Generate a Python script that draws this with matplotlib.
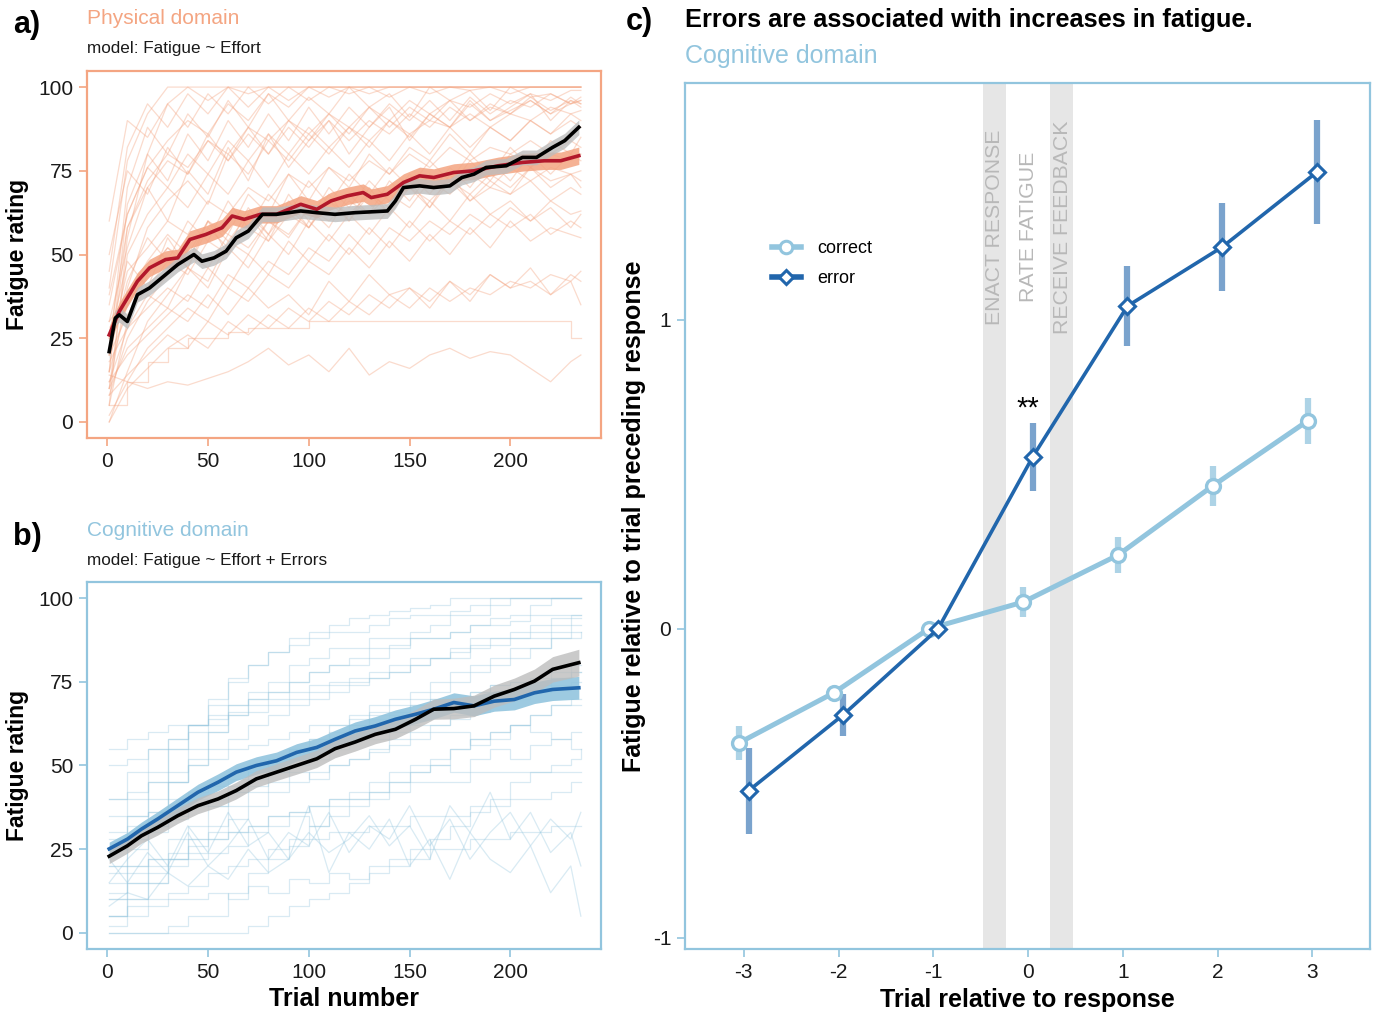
import numpy as np
import matplotlib.pyplot as plt
from matplotlib.lines import Line2D

plt.rcParams['font.family'] = ['Liberation Sans', 'DejaVu Sans']

ORANGE = '#f4a582'
RED = '#b2182b'
LIGHTBLUE = '#92c5de'
BLUE = '#2166ac'

# ---- panel a / b : individual participants, sampled every ~10 trials
TRACE_T = [1, 10, 20, 30, 40, 50, 60, 70, 80, 90, 100, 110, 120, 130, 140, 150, 160, 170, 180,
           190, 200, 210, 220, 230, 235]

PHYS_TRACES = [
    [5, 55, 80, 95, 100, 100, 100, 98, 100, 100, 100, 100, 100, 100, 100, 100, 100, 100, 100, 100, 100, 100, 100, 100, 100],
    [20, 70, 88, 80, 92, 85, 96, 88, 98, 90, 97, 92, 100, 94, 98, 91, 100, 96, 99, 93, 100, 97, 98, 95, 97],
    [10, 40, 58, 66, 72, 65, 80, 74, 84, 78, 86, 80, 88, 82, 90, 85, 92, 88, 95, 90, 93, 96, 92, 97, 95],
    [30, 52, 70, 60, 75, 68, 82, 72, 86, 76, 84, 90, 80, 88, 94, 84, 92, 88, 96, 90, 94, 98, 90, 96, 94],
    [0, 15, 30, 38, 46, 42, 54, 50, 60, 55, 64, 58, 68, 62, 72, 66, 74, 70, 78, 72, 80, 76, 84, 80, 85],
    [15, 35, 45, 52, 48, 60, 56, 68, 62, 74, 66, 76, 70, 80, 74, 82, 78, 86, 80, 88, 84, 90, 86, 92, 90],
    [25, 48, 40, 55, 46, 60, 50, 62, 54, 66, 58, 68, 60, 70, 62, 72, 64, 74, 66, 72, 68, 76, 70, 74, 70],
    [12, 28, 38, 34, 46, 40, 52, 46, 56, 50, 60, 54, 62, 56, 64, 58, 66, 60, 68, 62, 66, 60, 64, 58, 62],
    [8, 14, 20, 26, 22, 30, 26, 32, 28, 34, 30, 36, 32, 38, 34, 40, 36, 42, 38, 44, 40, 42, 38, 44, 42],
    [14, 12, 10, 12, 11, 13, 15, 18, 22, 17, 20, 15, 22, 14, 18, 16, 20, 22, 19, 21, 20, 16, 12, 18, 20],
    [5, 12, 18, 22, 25, 25, 27, 28, 28, 28, 30, 30, 30, 30, 30, 30, 30, 30, 30, 30, 30, 30, 30, 25, 25],
    [10, 22, 28, 34, 30, 38, 32, 40, 34, 38, 32, 42, 36, 44, 38, 40, 34, 42, 36, 44, 40, 46, 38, 42, 35],
    [35, 62, 76, 84, 90, 86, 95, 90, 98, 94, 100, 100, 100, 100, 100, 100, 100, 100, 100, 100, 100, 100, 100, 100, 100],
    [40, 78, 92, 100, 100, 96, 100, 100, 100, 100, 100, 100, 100, 100, 100, 100, 100, 100, 100, 100, 100, 100, 100, 100, 100],
    [20, 42, 55, 48, 60, 54, 66, 58, 68, 62, 72, 65, 74, 68, 76, 70, 78, 72, 80, 74, 82, 76, 80, 78, 80],
    [5, 30, 44, 52, 46, 58, 52, 64, 56, 68, 60, 70, 64, 72, 66, 74, 68, 76, 70, 78, 72, 80, 74, 80, 78],
    [50, 75, 68, 82, 74, 86, 78, 88, 80, 90, 84, 92, 86, 94, 88, 94, 90, 96, 90, 95, 92, 97, 93, 96, 95],
    [18, 28, 34, 40, 36, 46, 40, 50, 44, 54, 48, 56, 50, 58, 52, 60, 54, 60, 56, 62, 58, 62, 56, 60, 58],
    [10, 50, 62, 70, 64, 74, 68, 78, 70, 80, 74, 82, 76, 84, 78, 86, 80, 88, 82, 88, 84, 90, 86, 90, 88],
    [25, 58, 72, 80, 76, 84, 80, 88, 84, 90, 86, 92, 88, 94, 90, 96, 92, 96, 94, 98, 95, 98, 96, 99, 99],
    [2, 12, 22, 28, 34, 30, 40, 36, 44, 40, 48, 44, 52, 46, 54, 48, 56, 50, 58, 52, 60, 54, 58, 56, 55],
    [30, 38, 48, 56, 50, 60, 54, 62, 56, 64, 58, 66, 60, 68, 62, 70, 64, 72, 66, 70, 68, 72, 66, 70, 68],
    [45, 82, 95, 88, 98, 92, 100, 94, 100, 96, 100, 97, 100, 98, 100, 100, 100, 100, 100, 100, 100, 100, 100, 100, 100],
    [12, 20, 26, 32, 38, 34, 44, 40, 48, 44, 52, 48, 56, 50, 58, 54, 60, 56, 62, 58, 64, 60, 66, 62, 63],
    [20, 32, 40, 48, 44, 54, 50, 58, 54, 62, 58, 66, 62, 68, 64, 70, 66, 72, 68, 74, 70, 76, 72, 74, 75],
    [8, 25, 36, 44, 50, 46, 56, 52, 60, 56, 64, 60, 66, 62, 68, 64, 72, 68, 74, 70, 76, 72, 76, 74, 72],
    [15, 58, 70, 78, 74, 84, 78, 86, 80, 88, 82, 90, 84, 90, 86, 92, 88, 94, 90, 94, 92, 96, 92, 95, 96],
    [0, 10, 16, 22, 26, 22, 30, 26, 32, 28, 34, 30, 36, 32, 38, 34, 40, 36, 40, 38, 42, 40, 44, 42, 45],
    [38, 62, 76, 70, 80, 74, 84, 78, 86, 80, 88, 82, 88, 84, 90, 86, 90, 88, 92, 88, 92, 90, 94, 92, 93],
    [22, 45, 52, 60, 56, 66, 62, 70, 66, 74, 70, 76, 72, 78, 74, 80, 76, 82, 78, 82, 80, 84, 80, 84, 82],
    [60, 90, 85, 95, 88, 98, 92, 100, 95, 100, 96, 100, 98, 100, 97, 100, 98, 100, 99, 100, 98, 100, 100, 100, 100],
    [15, 65, 80, 72, 86, 78, 90, 82, 92, 84, 94, 86, 94, 88, 95, 90, 96, 90, 97, 92, 96, 94, 98, 95, 96],
]
PHYS_STEPPED = [10]

COG_TRACES = [
    [10, 20, 32, 45, 55, 60, 68, 72, 75, 80, 82, 85, 85, 88, 88, 90, 92, 95, 95, 98, 100, 100, 100, 100, 100],
    [20, 28, 36, 45, 52, 60, 65, 70, 72, 75, 78, 80, 82, 85, 86, 88, 88, 90, 92, 92, 93, 95, 95, 95, 95],
    [5, 10, 15, 22, 28, 32, 38, 42, 48, 52, 55, 58, 62, 65, 68, 70, 72, 75, 78, 80, 82, 85, 88, 90, 90],
    [0, 0, 0, 2, 5, 5, 12, 18, 22, 28, 32, 35, 38, 40, 45, 48, 50, 55, 58, 60, 62, 65, 68, 70, 70],
    [30, 35, 40, 45, 50, 55, 58, 62, 65, 68, 70, 72, 74, 76, 78, 80, 82, 85, 88, 88, 90, 92, 94, 95, 95],
    [15, 22, 28, 20, 32, 24, 36, 26, 30, 22, 38, 18, 30, 25, 34, 20, 28, 16, 30, 22, 18, 26, 12, 20, 5],
    [25, 28, 32, 35, 40, 38, 42, 44, 45, 48, 46, 50, 52, 55, 58, 58, 60, 60, 56, 58, 62, 60, 58, 60, 60],
    [40, 48, 55, 58, 62, 65, 68, 70, 72, 75, 78, 80, 80, 82, 85, 88, 88, 90, 92, 94, 95, 98, 100, 100, 100],
    [10, 15, 20, 22, 24, 28, 30, 32, 35, 36, 38, 40, 40, 42, 42, 45, 45, 45, 48, 48, 48, 48, 48, 48, 48],
    [5, 8, 10, 12, 14, 18, 20, 22, 25, 26, 28, 30, 30, 32, 32, 35, 35, 35, 38, 38, 40, 40, 42, 45, 45],
    [22, 15, 24, 18, 30, 20, 26, 34, 22, 30, 26, 36, 24, 32, 28, 38, 26, 34, 22, 30, 36, 26, 34, 28, 36],
    [50, 52, 55, 58, 60, 62, 65, 66, 68, 70, 72, 74, 75, 76, 78, 80, 82, 82, 85, 86, 88, 88, 90, 92, 92],
    [35, 40, 48, 55, 62, 68, 75, 80, 84, 86, 88, 90, 90, 92, 94, 95, 95, 96, 98, 100, 100, 100, 100, 100, 100],
    [15, 18, 22, 28, 32, 38, 42, 48, 52, 55, 58, 62, 65, 68, 70, 72, 75, 78, 80, 82, 85, 85, 88, 88, 90],
    [12, 15, 18, 20, 22, 24, 26, 30, 32, 35, 32, 38, 40, 42, 45, 48, 50, 48, 52, 55, 52, 56, 58, 55, 55],
    [28, 32, 36, 40, 42, 44, 46, 50, 52, 55, 58, 60, 62, 64, 65, 68, 70, 70, 72, 74, 75, 76, 78, 80, 80],
    [8, 12, 10, 18, 14, 20, 16, 25, 18, 22, 30, 24, 28, 35, 26, 32, 22, 38, 30, 42, 28, 36, 24, 30, 20],
    [40, 42, 45, 48, 50, 52, 55, 56, 58, 60, 62, 62, 64, 66, 66, 68, 70, 70, 72, 74, 75, 75, 76, 78, 78],
    [18, 25, 30, 34, 38, 40, 44, 46, 48, 50, 52, 55, 58, 58, 60, 62, 62, 65, 68, 70, 70, 72, 74, 75, 75],
    [55, 58, 60, 62, 62, 64, 66, 68, 70, 72, 74, 75, 76, 78, 80, 82, 82, 84, 86, 88, 88, 90, 92, 94, 94],
    [2, 5, 8, 10, 10, 12, 10, 14, 12, 16, 15, 18, 16, 20, 22, 22, 25, 25, 28, 28, 30, 30, 32, 32, 32],
    [20, 20, 22, 24, 26, 28, 30, 32, 35, 36, 38, 40, 42, 45, 48, 50, 52, 55, 58, 60, 62, 65, 68, 68, 68],
    [5, 10, 15, 22, 28, 30, 34, 38, 42, 45, 48, 50, 52, 54, 56, 60, 62, 64, 66, 70, 72, 74, 76, 78, 78],
    [25, 35, 45, 55, 62, 70, 76, 80, 84, 88, 90, 92, 94, 95, 96, 97, 98, 100, 100, 100, 100, 100, 100, 100, 100],
    [0, 0, 0, 0, 0, 0, 0, 2, 5, 8, 10, 12, 15, 18, 20, 25, 28, 32, 36, 40, 45, 48, 50, 52, 55],
]
COG_NOISY = [5, 10, 16]  # these participants moved the slider a lot

# ---- group means (model fit = coloured, observed mean = black)
A_BLACK_T = [1, 4, 6, 10, 15, 21, 27, 35, 43, 47, 53, 59, 64, 70, 77, 84, 96, 104, 113, 123,
             139, 143, 147, 155, 162, 170, 176, 182, 188, 198, 206, 213, 221, 227, 234]
A_BLACK_V = [21, 31, 32, 30, 38, 40, 43, 47, 50, 48, 49, 51, 55, 57, 62, 62, 63, 62.5, 62, 62.5,
             63, 66, 70, 70.5, 70, 70.5, 73, 74, 76, 76.5, 79, 79, 82, 84, 88]
A_BLACK_SE = 2.2
A_RED_T = [1, 6, 15, 21, 29, 35, 41, 49, 57, 62, 68, 76, 84, 96, 104, 111, 119, 127, 131, 139,
           147, 155, 162, 172, 182, 194, 206, 217, 225, 234]
A_RED_V = [26, 33, 42, 46, 48.5, 49, 54.5, 56, 58, 61.5, 60.5, 62, 62, 65, 63.5, 66, 67.5, 68.5, 67, 68,
           71.5, 73.5, 73, 74.5, 75, 76.5, 77.5, 78, 78, 79.5]
A_RED_SE = 2.6

B_T = [1, 10, 17, 25, 35, 45, 55, 64, 74, 84, 94, 104, 113, 123, 133, 143, 153, 162, 172, 182,
       192, 202, 212, 221, 234]
B_BLACK_V = [22.9, 26, 29, 31.5, 35, 38, 40, 42.5, 46, 48, 50, 52, 55, 57, 59.3, 60.8, 63.8, 66.8, 67, 67.8,
             70.7, 72.7, 75.2, 78.7, 80.7]
B_BLACK_SE = [2.2, 2.2, 2.2, 2.3, 2.3, 2.4, 2.4, 2.5, 2.5, 2.5, 2.6, 2.6, 2.7, 2.7, 2.8, 2.8, 2.9, 3.0, 3.1, 3.2,
              3.3, 3.4, 3.6, 3.8, 4.0]
B_BLUE_V = [25.1, 28, 31, 34, 38, 42, 45, 48, 50, 51.4, 53.9, 55.4, 57.8, 60.3, 61.8, 63.8, 65.3, 66.8, 68.8, 67.8,
            69.2, 69.7, 71.7, 72.7, 73.2]
B_BLUE_SE = [2.0, 2.0, 2.1, 2.2, 2.3, 2.4, 2.5, 2.5, 2.6, 2.6, 2.6, 2.7, 2.7, 2.7, 2.8, 2.8, 2.8, 2.9, 2.9, 3.0,
             3.0, 3.1, 3.2, 3.3, 3.4]

# ---- panel c
REL_TRIAL = [-3, -2, -1, 0, 1, 2, 3]
CORRECT_Y = [-0.369, -0.207, 0.0, 0.087, 0.239, 0.463, 0.673]
CORRECT_SE = [0.055, 0.015, 0.0, 0.047, 0.058, 0.065, 0.073]
ERROR_Y = [-0.524, -0.278, 0.0, 0.557, 1.045, 1.236, 1.479]
ERROR_SE = [0.14, 0.068, 0.0, 0.11, 0.128, 0.142, 0.167]
PHASES = ['ENACT RESPONSE', 'RATE FATIGUE', 'RECEIVE FEEDBACK']
PHASE_X = [-0.35, 0.0, 0.36]
BANDS = [(-0.475, -0.235), (0.235, 0.475)]


def style_trial_ax(ax, col):
    for s in ax.spines.values():
        s.set_color(col)
        s.set_linewidth(1.6)
    ax.tick_params(direction='out', length=6, width=1.2, color=col, labelsize=15,
                   labelcolor='#1a1a1a', pad=4)
    ax.set_xlim(-10, 245)
    ax.set_ylim(-4.8, 104.8)
    ax.set_xticks([0, 50, 100, 150, 200])
    ax.set_yticks([0, 25, 50, 75, 100])
    ax.set_ylabel('Fatigue rating', fontsize=16.5, fontweight='bold')
    ax.yaxis.set_label_coords(-0.112, 0.5)


fig = plt.figure(figsize=(13.75, 10.13), dpi=100)
ax_a = fig.add_axes([0.0633, 0.5676, 0.3738, 0.3623])
ax_b = fig.add_axes([0.0633, 0.0632, 0.3738, 0.3623])
ax_c = fig.add_axes([0.4982, 0.0632, 0.4982, 0.8549])

# panel a
for i, tr in enumerate(PHYS_TRACES):
    ds = 'steps-post' if i in PHYS_STEPPED else 'default'
    ax_a.plot(TRACE_T, tr, color=ORANGE, alpha=0.4, lw=0.9, drawstyle=ds, zorder=1)
a_bt = np.array(A_BLACK_T); a_bv = np.array(A_BLACK_V)
a_rt = np.array(A_RED_T); a_rv = np.array(A_RED_V)
ax_a.fill_between(a_rt, a_rv - A_RED_SE, a_rv + A_RED_SE, color=ORANGE, alpha=0.85, lw=0, zorder=2)
ax_a.fill_between(a_bt, a_bv - A_BLACK_SE, a_bv + A_BLACK_SE, color='#bdbdbd', alpha=0.8, lw=0, zorder=3)
ax_a.plot(a_rt, a_rv, color=RED, lw=2.6, zorder=4)
ax_a.plot(a_bt, a_bv, color='black', lw=2.6, zorder=5)
style_trial_ax(ax_a, ORANGE)

# panel b
for i, tr in enumerate(COG_TRACES):
    ds = 'default' if i in COG_NOISY else 'steps-post'
    ax_b.plot(TRACE_T, tr, color=LIGHTBLUE, alpha=0.35, lw=0.9, drawstyle=ds, zorder=1)
b_t = np.array(B_T)
ax_b.fill_between(b_t, np.array(B_BLUE_V) - B_BLUE_SE, np.array(B_BLUE_V) + B_BLUE_SE,
                  color=LIGHTBLUE, alpha=0.9, lw=0, zorder=2)
ax_b.fill_between(b_t, np.array(B_BLACK_V) - B_BLACK_SE, np.array(B_BLACK_V) + B_BLACK_SE,
                  color='#bdbdbd', alpha=0.8, lw=0, zorder=3)
ax_b.plot(b_t, B_BLUE_V, color=BLUE, lw=2.6, zorder=4)
ax_b.plot(b_t, B_BLACK_V, color='black', lw=2.6, zorder=5)
style_trial_ax(ax_b, LIGHTBLUE)
ax_b.set_xlabel('Trial number', fontsize=18, fontweight='bold')
ax_b.xaxis.set_label_coords(0.5, -0.103)

# panel c
for lo, hi in BANDS:
    ax_c.axvspan(lo, hi, color='#e6e6e6', lw=0, zorder=0)
for lab, x in zip(PHASES, PHASE_X):
    ax_c.text(x, 1.30, lab, rotation=90, ha='center', va='center', fontsize=15.3, color='#b8b8b8')

xc = np.array(REL_TRIAL) - 0.05
xe = np.array(REL_TRIAL) + 0.05
cy = np.array(CORRECT_Y); cse = np.array(CORRECT_SE)
ey = np.array(ERROR_Y); ese = np.array(ERROR_SE)
ax_c.vlines(xc, cy - cse, cy + cse, color=LIGHTBLUE, alpha=0.75, lw=4.5, zorder=2)
ax_c.vlines(xe, ey - ese, ey + ese, color=BLUE, alpha=0.6, lw=4.5, zorder=2)
ax_c.plot(xc, cy, color=LIGHTBLUE, lw=3.6, marker='o', ms=10, mfc='white', mec=LIGHTBLUE, mew=2.4, zorder=3)
ax_c.plot(xe, ey, color=BLUE, lw=2.6, marker='D', ms=8, mfc='white', mec=BLUE, mew=2.2, zorder=4)
ax_c.text(0, 0.712, '**', ha='center', va='center', fontsize=21, color='black')

handles = [Line2D([], [], color=LIGHTBLUE, lw=4, marker='o', ms=9, mfc='white', mec=LIGHTBLUE, mew=2.2),
           Line2D([], [], color=BLUE, lw=4, marker='D', ms=7.5, mfc='white', mec=BLUE, mew=2.2)]
ax_c.legend(handles, ['correct', 'error'], loc='upper left', bbox_to_anchor=(0.103, 0.837),
            frameon=False, fontsize=13, handlelength=1.6, handletextpad=0.9, labelspacing=0.7)

for s in ax_c.spines.values():
    s.set_color(LIGHTBLUE)
    s.set_linewidth(1.6)
ax_c.tick_params(direction='out', length=6, width=1.2, color=LIGHTBLUE, labelsize=15,
                 labelcolor='#1a1a1a', pad=4)
ax_c.set_xlim(-3.62, 3.61)
ax_c.set_ylim(-1.036, 1.767)
ax_c.set_xticks(REL_TRIAL)
ax_c.set_xticklabels([str(v) for v in REL_TRIAL])
ax_c.set_yticks([-1, 0, 1])
ax_c.set_yticklabels(['-1', '0', '1'])
ax_c.set_xlabel('Trial relative to response', fontsize=18, fontweight='bold')
ax_c.xaxis.set_label_coords(0.5, -0.0445)
ax_c.set_ylabel('Fatigue relative to trial preceding response', fontsize=18, fontweight='bold')
ax_c.yaxis.set_label_coords(-0.057, 0.5)

# panel headings
W, H = 1375.0, 1013.0
def ftxt(x, y, s, **kw):
    fig.text(x / W, 1 - y / H, s, va='center', ha='left', **kw)

ftxt(13, 25, 'a)', fontsize=22, fontweight='bold')
ftxt(87, 19, 'Physical domain', fontsize=15, color=ORANGE)
ftxt(87, 48, 'model: Fatigue ~ Effort', fontsize=12.3, color='#1a1a1a')
ftxt(13, 537, 'b)', fontsize=22, fontweight='bold')
ftxt(87, 531, 'Cognitive domain', fontsize=15, color=LIGHTBLUE)
ftxt(87, 560, 'model: Fatigue ~ Effort + Errors', fontsize=12.3, color='#1a1a1a')
ftxt(626, 22, 'c)', fontsize=22, fontweight='bold')
ftxt(685, 20, 'Errors are associated with increases in fatigue.', fontsize=18.3, fontweight='bold')
ftxt(685, 56, 'Cognitive domain', fontsize=18, color=LIGHTBLUE)

fig.savefig('out.png', dpi=100)
